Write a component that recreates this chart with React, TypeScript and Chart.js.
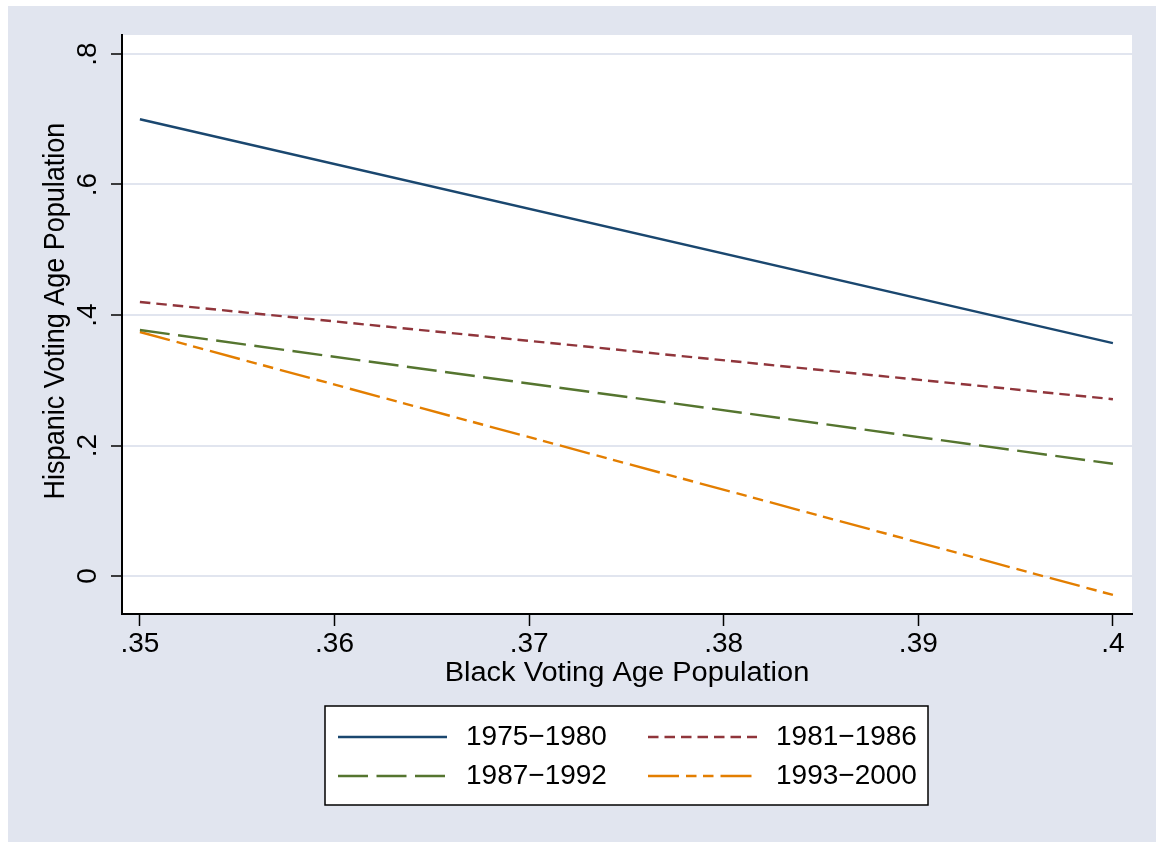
import React, { useEffect, useRef } from "react";
import { Chart, registerables } from "chart.js";

Chart.register(...registerables);

// Period labels and the fitted lines' end points (Black VAP on x, Hispanic VAP on y)
const periods = ["1975\u22121980", "1981\u22121986", "1987\u22121992", "1993\u22122000"];
const blackVap = [0.35, 0.4];
const hispVap1975 = [0.7, 0.357];
const hispVap1981 = [0.42, 0.271];
const hispVap1987 = [0.377, 0.172];
const hispVap1993 = [0.374, -0.029];

const xTicks = [0.35, 0.36, 0.37, 0.38, 0.39, 0.4];
const yTicks = [0, 0.2, 0.4, 0.6, 0.8];

const xTitle = "Black Voting Age Population";
const yTitle = "Hispanic Voting Age Population";

const FONT = "'Liberation Sans', Arial, Helvetica, sans-serif";
const BG = "#E1E5EF";
const GRID = "#E1E5EF";

const colors = ["#1A476F", "#90353B", "#55752F", "#E37E00"];
const dashes: number[][] = [[], [10.5, 6], [30, 8.5], [31, 7, 10.5, 6.5, 10.5, 7]];

// axis titles are set slightly wide
const TITLE_STRETCH = 1.075;

// Stata-style number labels: ".35", ".4", "0"
const fmt = (v: number) => {
  const s = String(Number(v.toFixed(3)));
  return s.replace(/^0\./, ".").replace(/^-0\./, "-.");
};

const seriesValues = [hispVap1975, hispVap1981, hispVap1987, hispVap1993];

const framePlugin = {
  id: "frame",
  beforeDraw(chart: any) {
    const { ctx, chartArea: a, width, height } = chart;
    ctx.save();
    ctx.fillStyle = BG;
    ctx.fillRect(0, 0, width, height);
    ctx.fillStyle = "#ffffff";
    ctx.fillRect(a.left, a.top, a.right - a.left, a.bottom - a.top);
    ctx.restore();
  },
  afterDraw(chart: any) {
    const { ctx, chartArea: a } = chart;
    ctx.save();
    ctx.fillStyle = "#000";
    ctx.font = `27px ${FONT}`;
    ctx.textAlign = "center";
    ctx.textBaseline = "middle";
    // x axis title
    ctx.save();
    ctx.translate((a.left + a.right) / 2, 668);
    ctx.scale(TITLE_STRETCH, 1);
    ctx.fillText(xTitle, 0, 0);
    ctx.restore();
    // y axis title, reading bottom to top
    ctx.save();
    ctx.translate(48, 305);
    ctx.rotate(-Math.PI / 2);
    ctx.scale(1, TITLE_STRETCH);
    ctx.fillText(yTitle, 0, 0);
    ctx.restore();

    // legend box
    const box = { x: 317, y: 700, w: 603, h: 99 };
    ctx.fillStyle = "#fff";
    ctx.fillRect(box.x, box.y, box.w, box.h);
    ctx.strokeStyle = "#000";
    ctx.lineWidth = 1.5;
    ctx.strokeRect(box.x, box.y, box.w, box.h);

    const cols = [
      { s0: 330, s1: 439, tx: 458 },
      { s0: 640, s1: 749, tx: 768 },
    ];
    const rows = [731, 770];
    chart.data.datasets.forEach((ds: any, i: number) => {
      const c = cols[i % 2];
      const y = rows[Math.floor(i / 2)];
      ctx.save();
      ctx.strokeStyle = ds.borderColor;
      ctx.lineWidth = ds.borderWidth;
      ctx.setLineDash(ds.borderDash || []);
      ctx.beginPath();
      ctx.moveTo(c.s0, y);
      ctx.lineTo(c.s1, y);
      ctx.stroke();
      ctx.restore();
      ctx.fillStyle = "#000";
      ctx.textAlign = "left";
      ctx.textBaseline = "middle";
      ctx.font = `28px ${FONT}`;
      ctx.fillText(ds.label, c.tx, y);
    });
    ctx.restore();
  },
};

export default function App() {
  const ref = useRef<HTMLCanvasElement | null>(null);

  useEffect(() => {
    if (!ref.current) return;
    const chart = new Chart(ref.current, {
      type: "line",
      data: {
        datasets: periods.map((p, i) => ({
          label: p,
          data: blackVap.map((x, j) => ({ x, y: seriesValues[i][j] })),
          borderColor: colors[i],
          backgroundColor: colors[i],
          borderWidth: 2.4,
          borderDash: dashes[i],
          pointRadius: 0,
          fill: false,
          tension: 0,
        })),
      },
      options: {
        animation: false,
        responsive: true,
        maintainAspectRatio: false,
        layout: { padding: { left: 0, right: 24, top: 29, bottom: 0 } },
        plugins: {
          legend: { display: false },
          tooltip: { enabled: false },
          title: { display: false },
        },
        scales: {
          x: {
            type: "linear",
            min: 0.34908,
            max: 0.40098,
            afterBuildTicks: (s: any) => {
              s.ticks = xTicks.map((v) => ({ value: v }));
            },
            afterFit: (s: any) => {
              s.height = 228;
              s.paddingLeft = 0;
              s.paddingRight = 0;
            },
            border: { display: true, color: "#000", width: 2 },
            grid: {
              drawOnChartArea: false,
              drawTicks: true,
              tickLength: 12,
              tickWidth: 1.5,
              tickColor: "#000",
            },
            ticks: {
              color: "#000",
              font: { size: 28, family: FONT },
              padding: 1,
              maxRotation: 0,
              minRotation: 0,
              callback: (v: any) => fmt(Number(v)),
            },
          },
          y: {
            type: "linear",
            min: -0.0582,
            max: 0.8291,
            afterBuildTicks: (s: any) => {
              s.ticks = yTicks.map((v) => ({ value: v }));
            },
            afterFit: (s: any) => {
              s.width = 114;
              s.paddingTop = 0;
              s.paddingBottom = 0;
            },
            border: { display: true, color: "#000", width: 2 },
            grid: {
              color: GRID,
              lineWidth: 2,
              drawTicks: true,
              tickLength: 11,
              tickWidth: 1.5,
              tickColor: "#000",
            },
            ticks: {
              color: "#000",
              font: { size: 28, family: FONT },
              minRotation: 90,
              maxRotation: 90,
              crossAlign: "center",
              padding: 11,
              callback: (v: any) => fmt(Number(v)),
            },
          },
        },
      },
      plugins: [framePlugin],
    } as any);
    return () => chart.destroy();
  }, []);

  return (
    <div style={{ position: "absolute", left: 8, top: 6, width: 1148, height: 836 }}>
      <canvas ref={ref} />
    </div>
  );
}
